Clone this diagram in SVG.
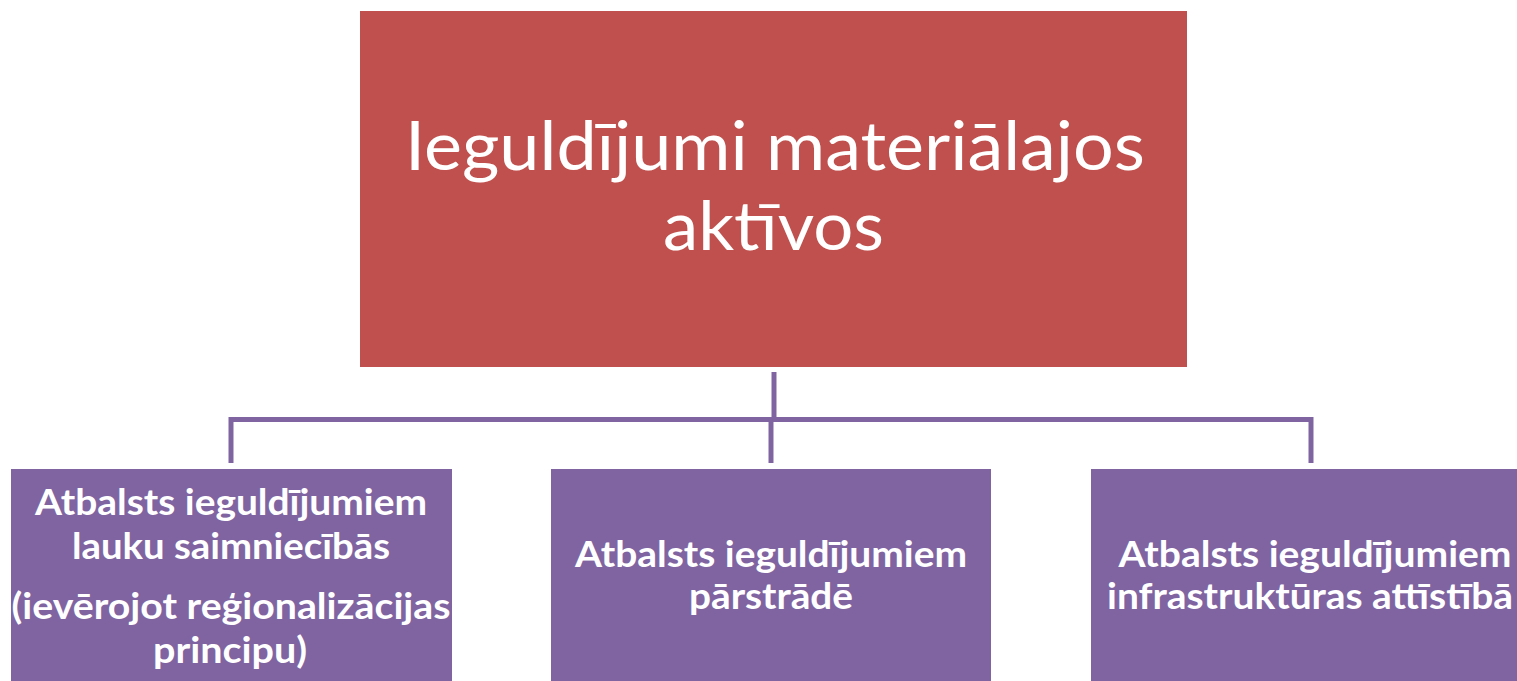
<svg xmlns="http://www.w3.org/2000/svg" width="1517" height="681" viewBox="0 0 1517 681">
<style>
.top{fill:#C0504D}
.child{fill:#8064A2}
.conn{fill:none;stroke:#8064A2;stroke-width:5}
.tt{font-family:Lato,"Open Sans","Liberation Sans",sans-serif;font-size:67px;fill:#fff;text-anchor:middle}
.ct{font-family:Lato,"Open Sans","Liberation Sans",sans-serif;font-weight:bold;font-size:36px;fill:#fff;text-anchor:middle}
</style>
<rect width="1517" height="681" fill="#fff"/>
<g id="connectors">
<path class="conn" d="M774 372 V419.5"/>
<path class="conn" d="M231 463 V419.5 H1311 V463"/>
<path class="conn" d="M771 419.5 V463"/>
</g>
<g id="node-top">
<rect class="top" x="360" y="11" width="827" height="356"/>
<text class="tt" x="775" y="170" textLength="740" lengthAdjust="spacingAndGlyphs">Ieguldījumi materiālajos</text>
<text class="tt" x="773.5" y="250" textLength="221" lengthAdjust="spacingAndGlyphs">aktīvos</text>
</g>
<g id="node-1">
<rect class="child" x="11" y="469" width="441" height="212"/>
<text class="ct" x="231" y="515" textLength="392" lengthAdjust="spacingAndGlyphs">Atbalsts ieguldījumiem</text>
<text class="ct" x="231" y="559" textLength="318" lengthAdjust="spacingAndGlyphs">lauku saimniecībās</text>
<text class="ct" x="231" y="619" textLength="439" lengthAdjust="spacingAndGlyphs">(ievērojot reģionalizācijas</text>
<text class="ct" x="230" y="663" textLength="154" lengthAdjust="spacingAndGlyphs">principu)</text>
</g>
<g id="node-2">
<rect class="child" x="551" y="469" width="440" height="212"/>
<text class="ct" x="771" y="567" textLength="392" lengthAdjust="spacingAndGlyphs">Atbalsts ieguldījumiem</text>
<text class="ct" x="771" y="609" textLength="164" lengthAdjust="spacingAndGlyphs">pārstrādē</text>
</g>
<g id="node-3">
<rect class="child" x="1091" y="469" width="426" height="212"/>
<text class="ct" x="1315" y="567" textLength="393" lengthAdjust="spacingAndGlyphs">Atbalsts ieguldījumiem</text>
<text class="ct" x="1310" y="609" textLength="406" lengthAdjust="spacingAndGlyphs">infrastruktūras attīstībā</text>
</g>
</svg>
